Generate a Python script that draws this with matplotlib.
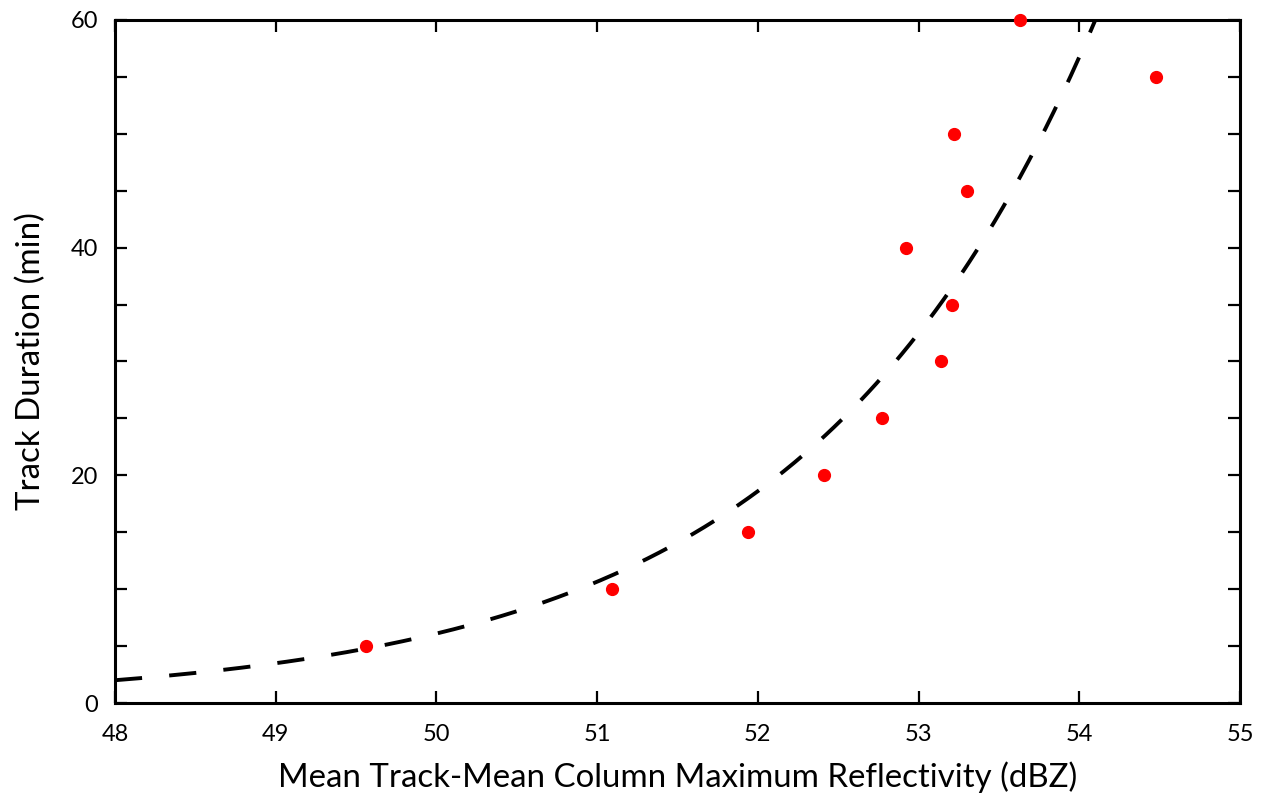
import numpy as np
import matplotlib
matplotlib.use("Agg")
import matplotlib.pyplot as plt
from matplotlib.ticker import MultipleLocator

plt.rcParams["font.family"] = ["Lato", "DejaVu Sans"]

# datos
reflectividad = [49.56, 51.09, 51.94, 52.41, 52.77, 53.14, 53.21, 52.92, 53.30, 53.22, 54.48, 53.63]
duracion = [5, 10, 15, 20, 25, 30, 35, 40, 45, 50, 55, 60]

# ajuste exponencial y = a*exp(b*x)
a_ajuste = 2.0
b_ajuste = 0.5576
x0_ajuste = 48.0

fig = plt.figure(figsize=(12.66, 8.05), dpi=100)
ax = fig.add_axes([0.0908, 0.1267, 0.8887, 0.8485])

x_curva = np.linspace(48, 55, 400)
y_curva = a_ajuste * np.exp(b_ajuste * (x_curva - x0_ajuste))
ax.plot(x_curva, y_curva, color="black", lw=2.8, dashes=(7.0, 7.0))
ax.plot(reflectividad, duracion, "o", color="red", markersize=8.5, clip_on=False, zorder=5)

ax.set_xlim(48, 55)
ax.set_ylim(0, 60)
ax.xaxis.set_major_locator(MultipleLocator(1))
ax.yaxis.set_major_locator(MultipleLocator(20))
ax.yaxis.set_minor_locator(MultipleLocator(5))

ax.tick_params(which="both", direction="in", top=True, right=True, length=8.6, width=1.6, labelsize=17)
ax.tick_params(axis="x", pad=15)
ax.tick_params(axis="y", pad=12)
for s in ax.spines.values():
    s.set_linewidth(2.2)

ax.set_xlabel("Mean Track-Mean Column Maximum Reflectivity (dBZ)", fontsize=23.8, labelpad=12)
ax.set_ylabel("Track Duration (min)", fontsize=23.8, labelpad=18)

fig.savefig("out.png", dpi=100)
